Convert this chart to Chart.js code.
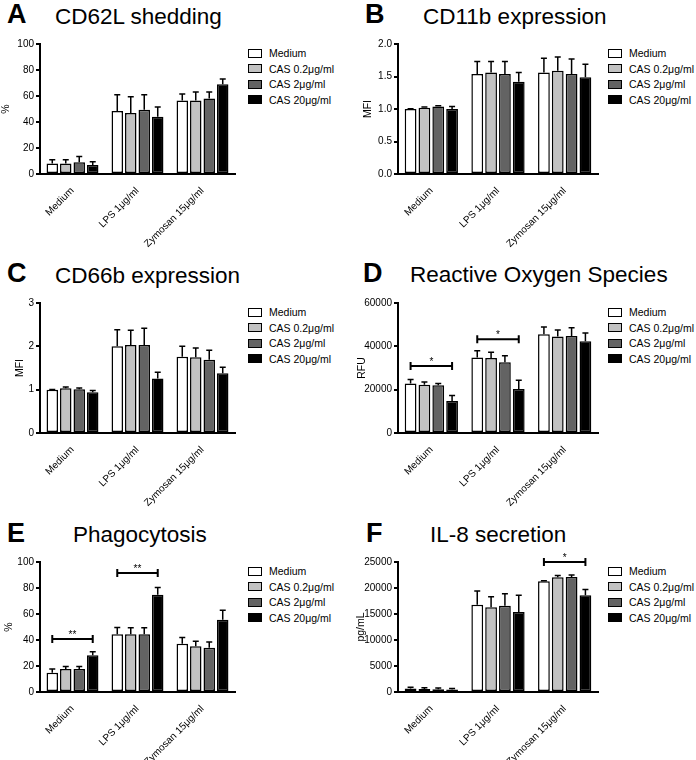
<!DOCTYPE html>
<html>
<head>
<meta charset="utf-8">
<script src="https://cdn.jsdelivr.net/npm/chart.js@4.4.0/dist/chart.umd.min.js"></script>
<style>
    body { margin: 0; width: 696px; height: 760px; position: relative; background: #fff; overflow: hidden;
        font-family: "Liberation Sans", Arial, sans-serif; color: #000; }
    .letter { position: absolute; font-weight: bold; font-size: 27px; line-height: 1; }
    .title { position: absolute; font-size: 22.5px; line-height: 1; white-space: nowrap; }
    .plot { position: absolute; }
    .legend { position: absolute; font-size: 10.5px; }
    .legend-row { height: 15.5px; display: flex; align-items: center; white-space: nowrap; }
    .legend-box { width: 12px; height: 7px; border: 1.5px solid #000; margin-right: 7px; }
</style>
</head>
<body>
<script>
// 共用的分類與系列
var groups = ['Medium', 'LPS 1μg/ml', 'Zymosan 15μg/ml'];
var series = ['Medium', 'CAS 0.2μg/ml', 'CAS 2μg/ml', 'CAS 20μg/ml'];
var seriesColors = ['#ffffff', '#c2c2c2', '#636363', '#000000'];

// A CD62L shedding (%) 每列一個系列: [Medium, LPS, Zymosan]
var cd62lMean = [[8, 48.5, 56.5], [8, 47, 56.5], [9, 49.5, 58], [7, 44, 69]];
var cd62lErr = [[3, 12.5, 5], [3, 12.5, 6.5], [4.5, 11.5, 5], [2.5, 7.5, 4]];

// B CD11b expression (MFI)
var cd11bMean = [[1.0, 1.54, 1.56], [1.02, 1.56, 1.59], [1.04, 1.54, 1.54], [1.0, 1.42, 1.49]];
var cd11bErr = [[0.005, 0.19, 0.22], [0.01, 0.17, 0.21], [0.01, 0.19, 0.23], [0.04, 0.14, 0.2]];

// C CD66b expression (MFI)
var cd66bMean = [[1.0, 2.0, 1.76], [1.03, 2.03, 1.75], [1.01, 2.03, 1.69], [0.94, 1.26, 1.38]];
var cd66bErr = [[0.005, 0.38, 0.24], [0.03, 0.34, 0.21], [0.03, 0.39, 0.22], [0.04, 0.14, 0.14]];

// D Reactive Oxygen Species (RFU)
var rosMean = [[22900, 34800, 45600], [22300, 34600, 44500], [22000, 32600, 44800], [14800, 20300, 42400]];
var rosErr = [[1800, 3200, 3300], [1200, 2700, 3000], [900, 3000, 3800], [2500, 4100, 3800]];
var rosSigGroup = [0, 1];
var rosSigValue = [30900, 43300];
var rosSigText = ['*', '*'];

// E Phagocytosis (%)
var phagoMean = [[14.9, 44.4, 37.2], [17.7, 44.4, 35.1], [17.7, 44.4, 34.1], [28.2, 74.9, 55.6]];
var phagoErr = [[2.8, 5.3, 4.8], [2, 5, 4], [2, 5, 4.4], [2.8, 5.4, 7.2]];
var phagoSigGroup = [0, 1];
var phagoSigValue = [40.8, 91.5];
var phagoSigText = ['**', '**'];

// F IL-8 secretion (pg/mL)
var il8Mean = [[650, 16800, 21300], [600, 16300, 22050], [550, 16600, 22100], [500, 15400, 18600]];
var il8Err = [[250, 2600, 100], [200, 2000, 350], [200, 2300, 400], [150, 3200, 1100]];
var il8SigGroup = [2];
var il8SigValue = [25000];
var il8SigText = ['*'];

// 各圖的位置
var panels = [
    { letter: 'A', title: 'CD62L shedding', yTitle: '%', titlePad: 0, means: cd62lMean, errors: cd62lErr,
      max: 100, step: 20, dec: 0, left: 0, plotLeft: 40, plotTop: 44, plotBottom: 174, plotRight: 235,
      letterX: 7, letterTop: 1, titleX: 55, titleTop: 6, legendX: 248 },
    { letter: 'B', title: 'CD11b expression', yTitle: 'MFI', titlePad: 14, means: cd11bMean, errors: cd11bErr,
      max: 2, step: 0.5, dec: 1, left: 348, plotLeft: 398, plotTop: 44, plotBottom: 174, plotRight: 598,
      letterX: 365, letterTop: 1, titleX: 423, titleTop: 6, legendX: 608 },
    { letter: 'C', title: 'CD66b expression', yTitle: 'MFI', titlePad: 14, means: cd66bMean, errors: cd66bErr,
      max: 3, step: 1, dec: 0, left: 0, plotLeft: 40, plotTop: 303, plotBottom: 433, plotRight: 235,
      letterX: 7, letterTop: 260, titleX: 55, titleTop: 265, legendX: 248 },
    { letter: 'D', title: 'Reactive Oxygen Species', yTitle: 'RFU', titlePad: 8, means: rosMean, errors: rosErr,
      max: 60000, step: 20000, dec: 0, left: 348, plotLeft: 398, plotTop: 303, plotBottom: 433, plotRight: 598,
      letterX: 363, letterTop: 260, titleX: 410, titleTop: 264, legendX: 608,
      sigGroup: rosSigGroup, sigValue: rosSigValue, sigText: rosSigText },
    { letter: 'E', title: 'Phagocytosis', yTitle: '%', titlePad: 3, means: phagoMean, errors: phagoErr,
      max: 100, step: 20, dec: 0, left: 0, plotLeft: 40, plotTop: 562, plotBottom: 692, plotRight: 235,
      letterX: 7, letterTop: 520, titleX: 73, titleTop: 524, legendX: 248,
      sigGroup: phagoSigGroup, sigValue: phagoSigValue, sigText: phagoSigText },
    { letter: 'F', title: 'IL-8 secretion', yTitle: 'pg/mL', titlePad: 7, means: il8Mean, errors: il8Err,
      max: 25000, step: 5000, dec: 0, left: 348, plotLeft: 398, plotTop: 562, plotBottom: 692, plotRight: 598,
      letterX: 366, letterTop: 520, titleX: 430, titleTop: 524, legendX: 608,
      sigGroup: il8SigGroup, sigValue: il8SigValue, sigText: il8SigText }
];

// 誤差線與顯著性標記
var errorBarPlugin = {
    id: 'errorBars',
    afterDatasetsDraw: function (chart) {
        var ctx = chart.ctx;
        var yScale = chart.scales.y;
        ctx.save();
        ctx.strokeStyle = '#000';
        ctx.lineWidth = 1.5;
        chart.data.datasets.forEach(function (ds, i) {
            var meta = chart.getDatasetMeta(i);
            meta.data.forEach(function (bar, j) {
                var top = yScale.getPixelForValue(ds.data[j] + ds.errors[j]);
                ctx.beginPath();
                ctx.moveTo(bar.x, bar.y);
                ctx.lineTo(bar.x, top);
                ctx.moveTo(bar.x - 3, top);
                ctx.lineTo(bar.x + 3, top);
                ctx.stroke();
            });
        });

        var sig = chart.options.plugins.sigBars;
        if (sig && sig.groups) {
            var first = chart.getDatasetMeta(0);
            var last = chart.getDatasetMeta(chart.data.datasets.length - 1);
            ctx.lineWidth = 2;
            ctx.fillStyle = '#000';
            ctx.font = '10px "Liberation Sans", Arial, sans-serif';
            ctx.textAlign = 'center';
            ctx.textBaseline = 'alphabetic';
            sig.groups.forEach(function (g, k) {
                var x0 = first.data[g].x;
                var x1 = last.data[g].x;
                var y = yScale.getPixelForValue(sig.values[k]);
                ctx.beginPath();
                ctx.moveTo(x0, y);
                ctx.lineTo(x1, y);
                ctx.moveTo(x0, y - 4);
                ctx.lineTo(x0, y + 4);
                ctx.moveTo(x1, y - 4);
                ctx.lineTo(x1, y + 4);
                ctx.stroke();
                ctx.fillText(sig.texts[k], (x0 + x1) / 2, y - 1);
            });
        }
        ctx.restore();
    }
};

function addText(cls, text, x, y) {
    var el = document.createElement('div');
    el.className = cls;
    el.textContent = text;
    el.style.left = x + 'px';
    el.style.top = y + 'px';
    document.body.appendChild(el);
}

function addLegend(p) {
    var box = document.createElement('div');
    box.className = 'legend';
    box.style.left = p.legendX + 'px';
    box.style.top = (p.plotTop + 9 - 7.75) + 'px';
    series.forEach(function (name, i) {
        var row = document.createElement('div');
        row.className = 'legend-row';
        var sw = document.createElement('div');
        sw.className = 'legend-box';
        sw.style.background = seriesColors[i];
        var label = document.createElement('span');
        label.textContent = name;
        row.appendChild(sw);
        row.appendChild(label);
        box.appendChild(row);
    });
    document.body.appendChild(box);
}

var xAxisHeight = 78;
var padTop = 14;
var padRight = 5;

panels.forEach(function (p) {
    addText('letter', p.letter, p.letterX, p.letterTop);
    addText('title', p.title, p.titleX, p.titleTop);
    addLegend(p);

    var canvas = document.createElement('canvas');
    canvas.className = 'plot';
    var top = p.plotTop - padTop;
    var w = p.plotRight + padRight - p.left;
    var h = p.plotBottom - top + xAxisHeight;
    canvas.width = w;
    canvas.height = h;
    canvas.style.left = p.left + 'px';
    canvas.style.top = top + 'px';
    canvas.style.width = w + 'px';
    canvas.style.height = h + 'px';
    document.body.appendChild(canvas);

    var yWidth = p.plotLeft - p.left;
    var datasets = series.map(function (name, i) {
        return {
            label: name,
            data: p.means[i],
            errors: p.errors[i],
            backgroundColor: seriesColors[i],
            borderColor: '#000',
            borderWidth: 1.5,
            borderSkipped: false,
            barPercentage: 0.85,
            categoryPercentage: 0.83
        };
    });

    new Chart(canvas.getContext('2d'), {
        type: 'bar',
        data: { labels: groups, datasets: datasets },
        plugins: [errorBarPlugin],
        options: {
            responsive: false,
            animation: false,
            devicePixelRatio: 1,
            layout: { padding: { top: padTop, right: padRight, left: 0, bottom: 0 } },
            plugins: {
                legend: { display: false },
                tooltip: { enabled: false },
                sigBars: { groups: p.sigGroup, values: p.sigValue, texts: p.sigText }
            },
            scales: {
                x: {
                    grid: { display: false },
                    border: { display: true, color: '#000', width: 2 },
                    ticks: {
                        color: '#000',
                        font: { family: '"Liberation Sans", Arial, sans-serif', size: 10 },
                        minRotation: 45,
                        maxRotation: 45,
                        padding: 3
                    },
                    afterFit: function (scale) { scale.height = xAxisHeight; }
                },
                y: {
                    min: 0,
                    max: p.max,
                    grid: { display: true, drawOnChartArea: false, drawTicks: true, tickLength: 4, color: '#000', lineWidth: 2 },
                    border: { display: true, color: '#000', width: 2 },
                    ticks: {
                        stepSize: p.step,
                        color: '#000',
                        padding: 2,
                        font: { family: '"Liberation Sans", Arial, sans-serif', size: 10 },
                        callback: function (v) { return Number(v).toFixed(p.dec); }
                    },
                    title: {
                        display: true,
                        text: p.yTitle,
                        color: '#000',
                        padding: { top: p.titlePad, bottom: 0 },
                        font: { family: '"Liberation Sans", Arial, sans-serif', size: 10.5 }
                    },
                    afterFit: function (scale) { scale.width = yWidth; }
                }
            }
        }
    });
});
</script>
</body>
</html>
